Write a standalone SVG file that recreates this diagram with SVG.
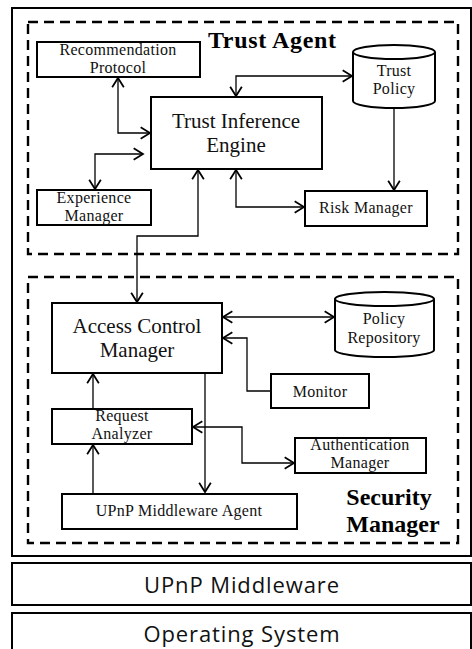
<svg xmlns="http://www.w3.org/2000/svg" width="472" height="649" viewBox="0 0 472 649">
  <style>
    .box { fill: #fff; stroke: #000; stroke-width: 2; }
    .frame { fill: none; stroke: #000; stroke-width: 2; }
    .group { fill: none; stroke: #000; stroke-width: 2.4; stroke-dasharray: 10 6; }
    .lbl { font-family: "Liberation Serif", "Times New Roman", serif; font-size: 16px; fill: #111; text-anchor: middle; letter-spacing: 0.3px; }
    .big { font-size: 21px; letter-spacing: 0; }
    .title { font-family: "Liberation Serif", "Times New Roman", serif; font-weight: bold; font-size: 24px; fill: #000; }
    .layer { font-family: "Open Sans", "Noto Sans", sans-serif; font-size: 22px; fill: #111; text-anchor: middle; letter-spacing: 0.9px; }
    .conn { fill: none; stroke: #000; stroke-width: 1.3; }
  </style>
  <defs>
    <marker id="arrow" markerUnits="userSpaceOnUse" markerWidth="14" markerHeight="14" viewBox="-9 -6 10 12" refX="0" refY="0" orient="auto-start-reverse">
      <path d="M-8,-5 L0,0 L-8,5" fill="none" stroke="#000" stroke-width="1.5"/>
    </marker>
  </defs>

  <!-- outer device frame -->
  <rect class="frame" x="12" y="8" width="459" height="548"/>

  <!-- Trust Agent group -->
  <g id="trust-agent">
    <rect class="group" x="28" y="22" width="430" height="232"/>
    <text class="title" x="208" y="48" textLength="128">Trust Agent</text>
  </g>

  <!-- Security Manager group -->
  <g id="security-manager">
    <rect class="group" x="28" y="277" width="430" height="266"/>
    <text class="title" x="389" y="505" text-anchor="middle">Security</text>
    <text class="title" x="393" y="532" text-anchor="middle">Manager</text>
  </g>

  <g id="recommendation-protocol">
    <rect class="box" x="37" y="42" width="163" height="35"/>
    <text class="lbl" x="118" y="55">Recommendation</text>
    <text class="lbl" x="118" y="73">Protocol</text>
  </g>

  <g id="trust-inference-engine">
    <rect class="box" x="151" y="97" width="171" height="72"/>
    <text class="lbl big" x="236" y="128">Trust Inference</text>
    <text class="lbl big" x="236" y="152">Engine</text>
  </g>

  <g id="trust-policy">
    <path class="box" d="M353,52 A41,7 0 0 1 435,52 V101 A41,7 0 0 1 353,101 Z"/>
    <path class="frame" d="M353,52 A41,7 0 0 0 435,52"/>
    <text class="lbl" x="394" y="76">Trust</text>
    <text class="lbl" x="394" y="94">Policy</text>
  </g>

  <g id="experience-manager">
    <rect class="box" x="37" y="190" width="114" height="35"/>
    <text class="lbl" x="94" y="203">Experience</text>
    <text class="lbl" x="94" y="221">Manager</text>
  </g>

  <g id="risk-manager">
    <rect class="box" x="305" y="191" width="122" height="35"/>
    <text class="lbl" x="366" y="213">Risk Manager</text>
  </g>

  <g id="access-control-manager">
    <rect class="box" x="52" y="303" width="170" height="70"/>
    <text class="lbl big" x="137" y="333">Access Control</text>
    <text class="lbl big" x="137" y="357">Manager</text>
  </g>

  <g id="policy-repository">
    <path class="box" d="M335,299 A49.5,7 0 0 1 434,299 V350 A49.5,7 0 0 1 335,350 Z"/>
    <path class="frame" d="M335,299 A49.5,7 0 0 0 434,299"/>
    <text class="lbl" x="384" y="324">Policy</text>
    <text class="lbl" x="384" y="343">Repository</text>
  </g>

  <g id="monitor">
    <rect class="box" x="271" y="374" width="98" height="34"/>
    <text class="lbl" x="320" y="397">Monitor</text>
  </g>

  <g id="request-analyzer">
    <rect class="box" x="52" y="409" width="140" height="35"/>
    <text class="lbl" x="122" y="421">Request</text>
    <text class="lbl" x="122" y="439">Analyzer</text>
  </g>

  <g id="authentication-manager">
    <rect class="box" x="295" y="438" width="131" height="35"/>
    <text class="lbl" x="360" y="450">Authentication</text>
    <text class="lbl" x="360" y="468">Manager</text>
  </g>

  <g id="upnp-middleware-agent">
    <rect class="box" x="62" y="494" width="235" height="35"/>
    <text class="lbl" x="179" y="516">UPnP Middleware Agent</text>
  </g>

  <!-- lower platform layers -->
  <g id="upnp-middleware">
    <rect class="frame" x="12" y="563" width="459" height="42"/>
    <text class="layer" x="242" y="593">UPnP Middleware</text>
  </g>
  <g id="operating-system">
    <rect class="frame" x="12" y="613" width="459" height="50"/>
    <text class="layer" x="242" y="642">Operating System</text>
  </g>

  <!-- connectors -->
  <g id="connectors">
    <path class="conn" d="M118,78 V133 H150" marker-start="url(#arrow)" marker-end="url(#arrow)"/>
    <path class="conn" d="M143,154 H95 V189" marker-start="url(#arrow)" marker-end="url(#arrow)"/>
    <path class="conn" d="M236,96 V76 H352" marker-start="url(#arrow)" marker-end="url(#arrow)"/>
    <path class="conn" d="M394,108 V190" marker-end="url(#arrow)"/>
    <path class="conn" d="M236,170 V207 H304" marker-start="url(#arrow)" marker-end="url(#arrow)"/>
    <path class="conn" d="M198,170 V236 H137 V302" marker-start="url(#arrow)" marker-end="url(#arrow)"/>
    <path class="conn" d="M223,317 H334" marker-start="url(#arrow)" marker-end="url(#arrow)"/>
    <path class="conn" d="M271,391 H247 V338 H223" marker-end="url(#arrow)"/>
    <path class="conn" d="M93,409 V374" marker-end="url(#arrow)"/>
    <path class="conn" d="M205,373 V492" marker-end="url(#arrow)"/>
    <path class="conn" d="M193,427 H242 V463 H294" marker-start="url(#arrow)" marker-end="url(#arrow)"/>
    <path class="conn" d="M93,494 V445" marker-end="url(#arrow)"/>
  </g>
</svg>
